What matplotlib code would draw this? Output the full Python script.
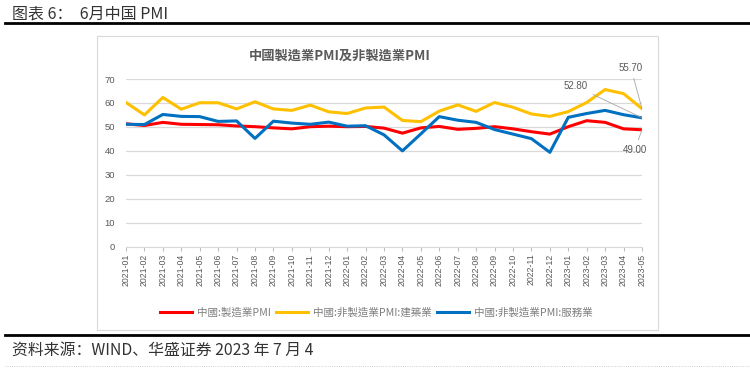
import matplotlib
matplotlib.use('Agg')
from matplotlib import pyplot as plt
from matplotlib.patches import Rectangle
from matplotlib.lines import Line2D

months = ['2021-01', '2021-02', '2021-03', '2021-04', '2021-05', '2021-06', '2021-07', '2021-08',
          '2021-09', '2021-10', '2021-11', '2021-12', '2022-01', '2022-02', '2022-03', '2022-04',
          '2022-05', '2022-06', '2022-07', '2022-08', '2022-09', '2022-10', '2022-11', '2022-12',
          '2023-01', '2023-02', '2023-03', '2023-04', '2023-05']
manufacturing = [51.3, 50.6, 51.9, 51.1, 51.0, 50.9, 50.4, 50.1, 49.6, 49.2, 50.1, 50.3,
                 50.1, 50.2, 49.5, 47.4, 49.6, 50.2, 49.0, 49.4, 50.1, 49.2, 48.0, 47.0,
                 50.1, 52.6, 51.9, 49.2, 48.8]
construction = [60.2, 55.0, 62.3, 57.4, 60.1, 60.1, 57.5, 60.5, 57.5, 56.9, 59.1, 56.3,
                55.6, 57.9, 58.3, 52.7, 52.2, 56.6, 59.2, 56.5, 60.2, 58.2, 55.4, 54.4,
                56.4, 60.2, 65.6, 63.9, 57.6]
services = [51.1, 51.0, 55.2, 54.4, 54.3, 52.3, 52.5, 45.2, 52.4, 51.6, 51.1, 52.0,
            50.3, 50.5, 46.7, 40.0, 47.1, 54.3, 52.8, 51.9, 48.9, 47.0, 45.1, 39.4,
            54.0, 55.6, 56.9, 55.1, 53.8]
yticks = [0, 10, 20, 30, 40, 50, 60, 70]
labels = [('52.80', services, 24.4, 67.0), ('55.70', construction, 27.4, 74.6), ('49.00', manufacturing, 27.6, 40.3)]

cjk = ['Noto Sans CJK SC', 'DejaVu Sans']
tc = ['Noto Sans CJK TC', 'DejaVu Sans']
grey = '#595959'

fig = plt.figure(figsize=(7.5, 3.68), dpi=100)
fig.patch.set_facecolor('white')

# header / footer of the report page
fig.text(0.016, 0.962, '图表 6：  6月中国 PMI', family=cjk, fontsize=11.5, color='#333333', va='center')
fig.add_artist(Line2D([0.006, 1.0], [0.938, 0.938], color='black', lw=2))
fig.add_artist(Line2D([0.006, 1.0], [0.090, 0.090], color='black', lw=2))
fig.text(0.016, 0.047, '资料来源：WIND、华盛证券 2023 年 7 月 4', family=cjk, fontsize=11.4, color='#333333', va='center')
fig.add_artist(Line2D([0.006, 1.0], [0.006, 0.006], color='#BFBFBF', lw=0.6, ls=':'))

# chart frame
fig.add_artist(Rectangle((0.1293, 0.103), 0.748, 0.799, transform=fig.transFigure,
                         fill=False, edgecolor='#D9D9D9', lw=0.8))
fig.text(0.453, 0.848, '中國製造業PMI及非製造業PMI', family=tc, fontsize=9.5, fontweight='bold',
         color='#595959', ha='center', va='center')

ax = fig.add_axes([0.168, 0.3296, 0.688, 0.4557])
x = list(range(len(months)))
ax.plot(x, manufacturing, color='#FF0000', lw=2.2, label='中國:製造業PMI')
ax.plot(x, construction, color='#FFC000', lw=2.2, label='中國:非製造業PMI:建築業')
ax.plot(x, services, color='#0070C0', lw=2.2, label='中國:非製造業PMI:服務業')

ax.set_xlim(0, len(months) - 1)
ax.set_ylim(0, 70)
ax.set_yticks(yticks)
ax.set_xticks(x)
ax.set_xticklabels(months, rotation=90, fontsize=6.3, color=grey, family='Liberation Sans')
ax.tick_params(axis='y', length=0, labelsize=6.8, labelcolor=grey, pad=8)
ax.tick_params(axis='x', length=3, color='#BFBFBF', pad=2)
for lbl in ax.get_yticklabels():
    lbl.set_family('Liberation Sans')
ax.grid(axis='y', color='#D9D9D9', lw=0.9)
ax.set_axisbelow(True)
for s in ['top', 'right', 'left']:
    ax.spines[s].set_visible(False)
ax.spines['bottom'].set_color('#D9D9D9')

for txt, series, tx, ty in labels:
    ax.annotate(txt, xy=(len(months) - 1, series[-1]), xytext=(tx, ty), ha='center', va='center',
                fontsize=7, color=grey, family='Liberation Sans', annotation_clip=False,
                arrowprops=dict(arrowstyle='-', color='#A6A6A6', lw=0.6, shrinkA=2, shrinkB=0))

leg = fig.legend(loc='center', bbox_to_anchor=(0.502, 0.150), ncol=3, frameon=False,
                 prop={'family': tc, 'size': 7.6}, handlelength=3.0, columnspacing=0.5,
                 handletextpad=0.5)
for t in leg.get_texts():
    t.set_color('#7F7F7F')

fig.savefig('out.png', dpi=100)
